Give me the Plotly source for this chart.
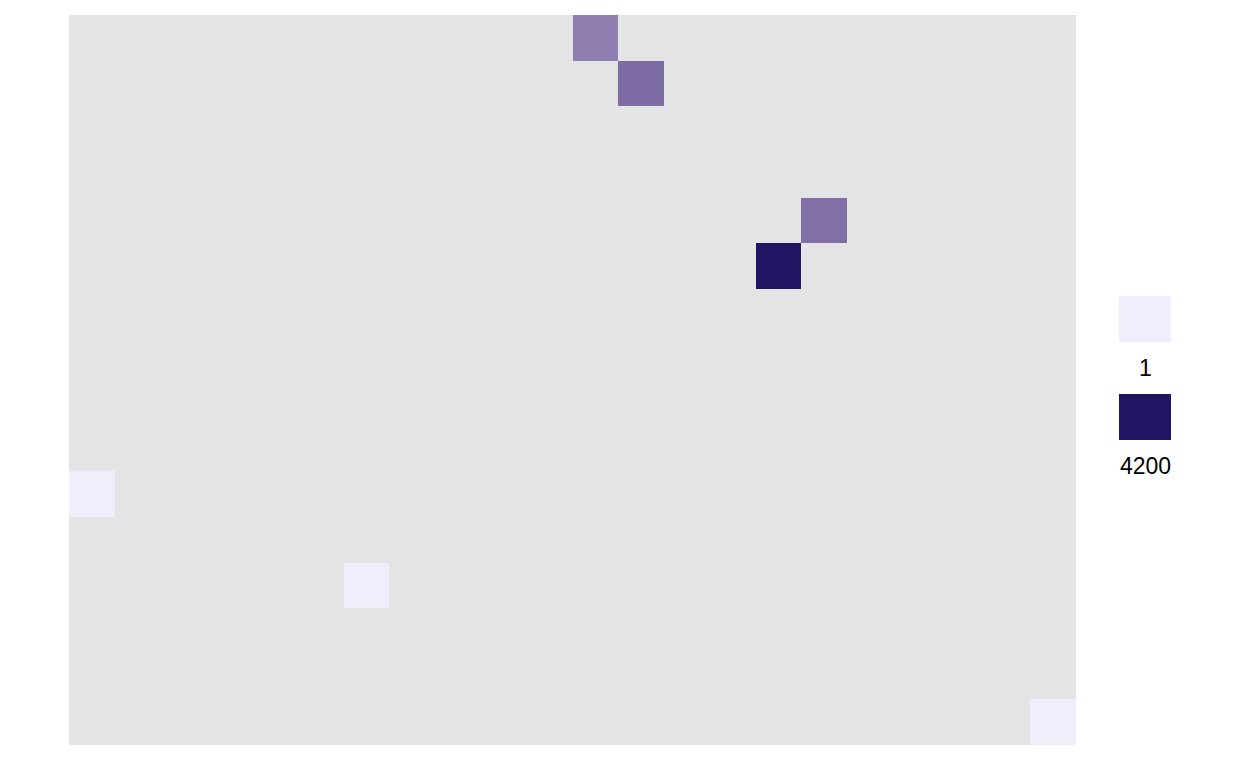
import plotly.graph_objects as go
import numpy as np

# ---- data ----
n_cols = 22
n_rows = 16
cell_cols = [11, 12, 16, 15, 0, 6, 21]
cell_rows = [0, 1, 4, 5, 10, 12, 15]
cell_values = [2000, 2350, 2300, 4200, 1, 1, 1]
legend_values = [1, 4200]
legend_labels = ["1", "4200"]

LOW = (240, 238, 250)
HIGH = (33, 20, 99)
VMIN, VMAX = 1, 4200

# ---- Lab interpolation (like ggplot's gradient) ----
def srgb_to_lin(c):
    c = c / 255.0
    return np.where(c <= 0.04045, c / 12.92, ((c + 0.055) / 1.055) ** 2.4)

def lin_to_srgb(c):
    c = np.clip(c, 0, 1)
    return np.where(c <= 0.0031308, 12.92 * c, 1.055 * c ** (1 / 2.4) - 0.055) * 255

M = np.array([[0.4124, 0.3576, 0.1805], [0.2126, 0.7152, 0.0722], [0.0193, 0.1192, 0.9505]])
Minv = np.linalg.inv(M)
WP = M @ np.ones(3)

def f(t):
    d = 6 / 29
    return np.where(t > d ** 3, np.cbrt(t), t / (3 * d * d) + 4 / 29)

def finv(t):
    d = 6 / 29
    return np.where(t > d, t ** 3, 3 * d * d * (t - 4 / 29))

def to_lab(rgb):
    xyz = M @ srgb_to_lin(np.array(rgb, float)) / WP
    fx, fy, fz = f(xyz)
    return np.array([116 * fy - 16, 500 * (fx - fy), 200 * (fy - fz)])

def from_lab(lab):
    L, a, b = lab
    fy = (L + 16) / 116
    xyz = np.array([finv(fy + a / 500), finv(fy), finv(fy - b / 200)]) * WP
    rgb = lin_to_srgb(Minv @ xyz)
    return "rgb(%d,%d,%d)" % tuple(int(round(v)) for v in rgb)

lab_lo, lab_hi = to_lab(LOW), to_lab(HIGH)

def color_at(t):
    return from_lab(lab_lo + (lab_hi - lab_lo) * t)

colorscale = [[t, color_at(t)] for t in np.linspace(0, 1, 21)]

z = np.full((n_rows, n_cols), np.nan)
for c, r, v in zip(cell_cols, cell_rows, cell_values):
    z[r, c] = v

fig = go.Figure()
fig.add_trace(go.Heatmap(
    z=z.tolist(), x=list(range(n_cols)), y=list(range(n_rows)),
    colorscale=colorscale, zmin=VMIN, zmax=VMAX, showscale=False,
    hoverongaps=False,
))

W, H = 1248, 768
l, r, t, b = 69, 172, 14.5, 22.5
pw, ph = W - l - r, H - t - b

def px_x(x):
    return (x - l) / pw

def px_y(y):
    return 1 - (y - t) / ph

shapes = []
annotations = []
legend_tops = [296, 394]
for val, lab, top in zip(legend_values, legend_labels, legend_tops):
    col = color_at((val - VMIN) / (VMAX - VMIN))
    shapes.append(dict(type="rect", xref="paper", yref="paper",
                       x0=px_x(1119), x1=px_x(1171), y0=px_y(top + 46), y1=px_y(top),
                       fillcolor=col, line=dict(width=0)))
    annotations.append(dict(xref="paper", yref="paper", x=px_x(1145), y=px_y(top + 72),
                            text=lab, showarrow=False, xanchor="center", yanchor="middle",
                            font=dict(size=23, color="black", family="Liberation Sans, Arial")))

fig.update_layout(
    width=W, height=H,
    margin=dict(l=l, r=r, t=t, b=b),
    paper_bgcolor="white", plot_bgcolor="#E4E4E4",
    xaxis=dict(range=[-0.5, n_cols - 0.5], showgrid=False, zeroline=False,
               showticklabels=False, ticks=""),
    yaxis=dict(range=[n_rows - 0.5, -0.5], showgrid=False, zeroline=False,
               showticklabels=False, ticks=""),
    shapes=shapes, annotations=annotations,
    showlegend=False,
)

fig.write_html("out.html")
